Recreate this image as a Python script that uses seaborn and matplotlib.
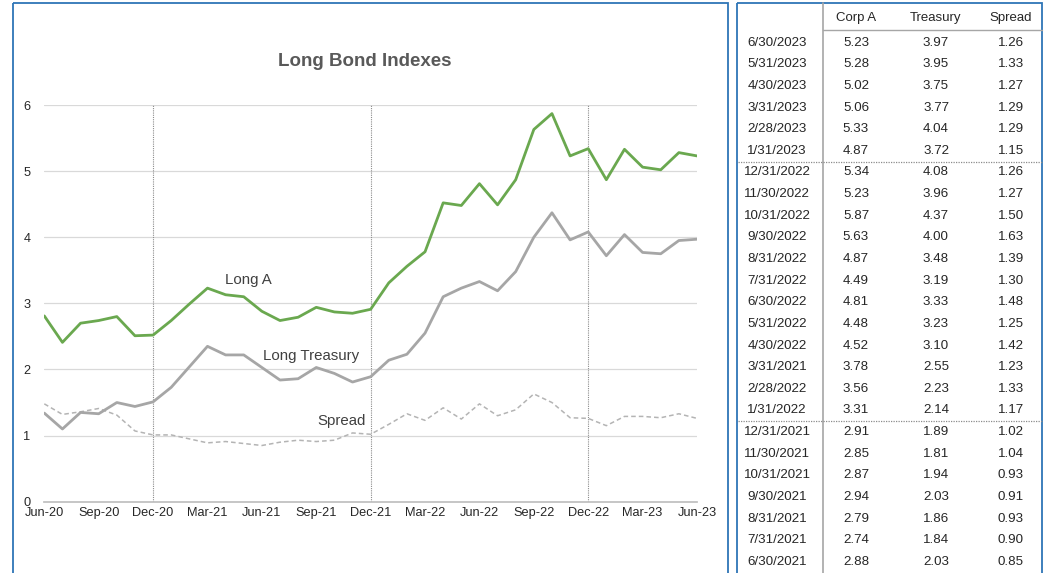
import numpy as np
import pandas as pd
import matplotlib
matplotlib.use("Agg")
import matplotlib.pyplot as plt
import seaborn as sns

# Monthly index levels, Jun-20 .. Jun-23 (first 12, rest from the table)
corp_a = [2.81, 2.41, 2.70, 2.74, 2.80, 2.51, 2.52, 2.74, 2.99, 3.23, 3.13, 3.10,
          2.88, 2.74, 2.79, 2.94, 2.87, 2.85, 2.91, 3.31, 3.56, 3.78, 4.52, 4.48,
          4.81, 4.49, 4.87, 5.63, 5.87, 5.23, 5.34, 4.87, 5.33, 5.06, 5.02, 5.28, 5.23]
treasury = [1.34, 1.10, 1.35, 1.33, 1.50, 1.44, 1.51, 1.73, 2.04, 2.35, 2.22, 2.22,
            2.03, 1.84, 1.86, 2.03, 1.94, 1.81, 1.89, 2.14, 2.23, 2.55, 3.10, 3.23,
            3.33, 3.19, 3.48, 4.00, 4.37, 3.96, 4.08, 3.72, 4.04, 3.77, 3.75, 3.95, 3.97]
spread = [1.48, 1.32, 1.36, 1.41, 1.31, 1.07, 1.01, 1.01, 0.95, 0.89, 0.91, 0.88,
          0.85, 0.90, 0.93, 0.91, 0.93, 1.04, 1.02, 1.17, 1.33, 1.23, 1.42, 1.25,
          1.48, 1.30, 1.39, 1.63, 1.50, 1.27, 1.26, 1.15, 1.29, 1.29, 1.27, 1.33, 1.26]
tick_labels = ["Jun-20", "Sep-20", "Dec-20", "Mar-21", "Jun-21", "Sep-21", "Dec-21",
               "Mar-22", "Jun-22", "Sep-22", "Dec-22", "Mar-23", "Jun-23"]
year_ends = [6, 18, 30]

# table (newest first) - dates as printed
table_dates = ["6/30/2023", "5/31/2023", "4/30/2023", "3/31/2023", "2/28/2023", "1/31/2023",
               "12/31/2022", "11/30/2022", "10/31/2022", "9/30/2022", "8/31/2022", "7/31/2022",
               "6/30/2022", "5/31/2022", "4/30/2022", "3/31/2021", "2/28/2022", "1/31/2022",
               "12/31/2021", "11/30/2021", "10/31/2021", "9/30/2021", "8/31/2021", "7/31/2021",
               "6/30/2021"]
table_cols = ["Corp A", "Treasury", "Spread"]

W, H = 1045, 573
sns.set_theme(style="white")
plt.rcParams["font.family"] = ["Liberation Sans", "DejaVu Sans"]

df = pd.DataFrame({"month": np.arange(len(corp_a)), "corp": corp_a,
                   "treasury": treasury, "spread": spread})

fig = plt.figure(figsize=(W / 100, H / 100), dpi=100)
fig.patch.set_facecolor("white")

# overlay axes in pixel coords for frames and table
bg = fig.add_axes([0, 0, 1, 1])
bg.set_xlim(0, W)
bg.set_ylim(H, 0)
bg.axis("off")
blue = "#2E75B6"
bg.add_patch(plt.Rectangle((13, 3), 715, 580, fill=False, ec=blue, lw=1.3))
bg.add_patch(plt.Rectangle((737, 3), 305, 580, fill=False, ec=blue, lw=1.3))

# chart
ax = fig.add_axes([44.3 / W, (H - 501.7) / H, (697 - 44.3) / W, (501.7 - 105) / H])
for v in range(1, 7):
    ax.axhline(v, color="#D9D9D9", lw=0.9, zorder=0)
for m in year_ends:
    ax.axvline(m, color="#8C8C8C", lw=0.8, ls=(0, (1, 1)), zorder=1)

sns.lineplot(data=df, x="month", y="corp", ax=ax, color="#6AA84F", lw=2.0, zorder=4)
sns.lineplot(data=df, x="month", y="treasury", ax=ax, color="#A6A6A6", lw=2.0, zorder=3)
sns.lineplot(data=df, x="month", y="spread", ax=ax, color="#B4B4B4", lw=1.1,
             ls=(0, (3, 2)), zorder=2)

ax.set_xlim(0, 36)
ax.set_ylim(0, 6)
ax.set_xticks(np.arange(0, 37, 3))
ax.set_xticklabels(tick_labels)
ax.set_yticks(range(0, 7))
ax.set_xlabel("")
ax.set_ylabel("")
for s in ["top", "right", "left"]:
    ax.spines[s].set_visible(False)
ax.spines["bottom"].set_color("#BFBFBF")
ax.tick_params(axis="x", direction="in", length=4, color="#BFBFBF", labelsize=9.2,
               labelcolor="#262626", pad=4)
ax.tick_params(axis="y", length=0, labelsize=9.2, labelcolor="#262626", pad=10)
ax.patch.set_alpha(0)

lab = dict(fontsize=10.8, color="#404040", ha="center", va="center")
ax.text(11.25, 3.35, "Long A", **lab)
ax.text(14.7, 2.20, "Long Treasury", **lab)
ax.text(16.4, 1.22, "Spread", **lab)

bg.text(365, 61, "Long Bond Indexes", fontsize=13.5, fontweight="bold", color="#595959",
        ha="center", va="center")

# table
bg.plot([823, 823], [3, 576], color="#A6A6A6", lw=1.2)
bg.plot([823, 1042], [30, 30], color="#A6A6A6", lw=1.0)
col_x = [856, 936, 1011]
for cx, name in zip(col_x, table_cols):
    bg.text(cx, 18, name, fontsize=9.5, color="#262626", ha="center", va="center")
row0, step = 42.7, 21.63
n = len(table_dates)
for i, d in enumerate(table_dates):
    y = row0 + i * step
    k = len(corp_a) - 1 - i
    bg.text(777, y, d, fontsize=9.6, color="#262626", ha="center", va="center")
    for cx, series in zip(col_x, [corp_a, treasury, spread]):
        bg.text(cx, y, f"{series[k]:.2f}", fontsize=9.6, color="#262626",
                ha="center", va="center")
for i, d in enumerate(table_dates):
    if d.startswith("1/31"):
        y = row0 + (i + 0.5) * step
        bg.plot([738, 1042], [y, y], color="#8C8C8C", lw=0.9, ls=(0, (1, 1)))

fig.savefig("out.png", dpi=100, facecolor="white")
